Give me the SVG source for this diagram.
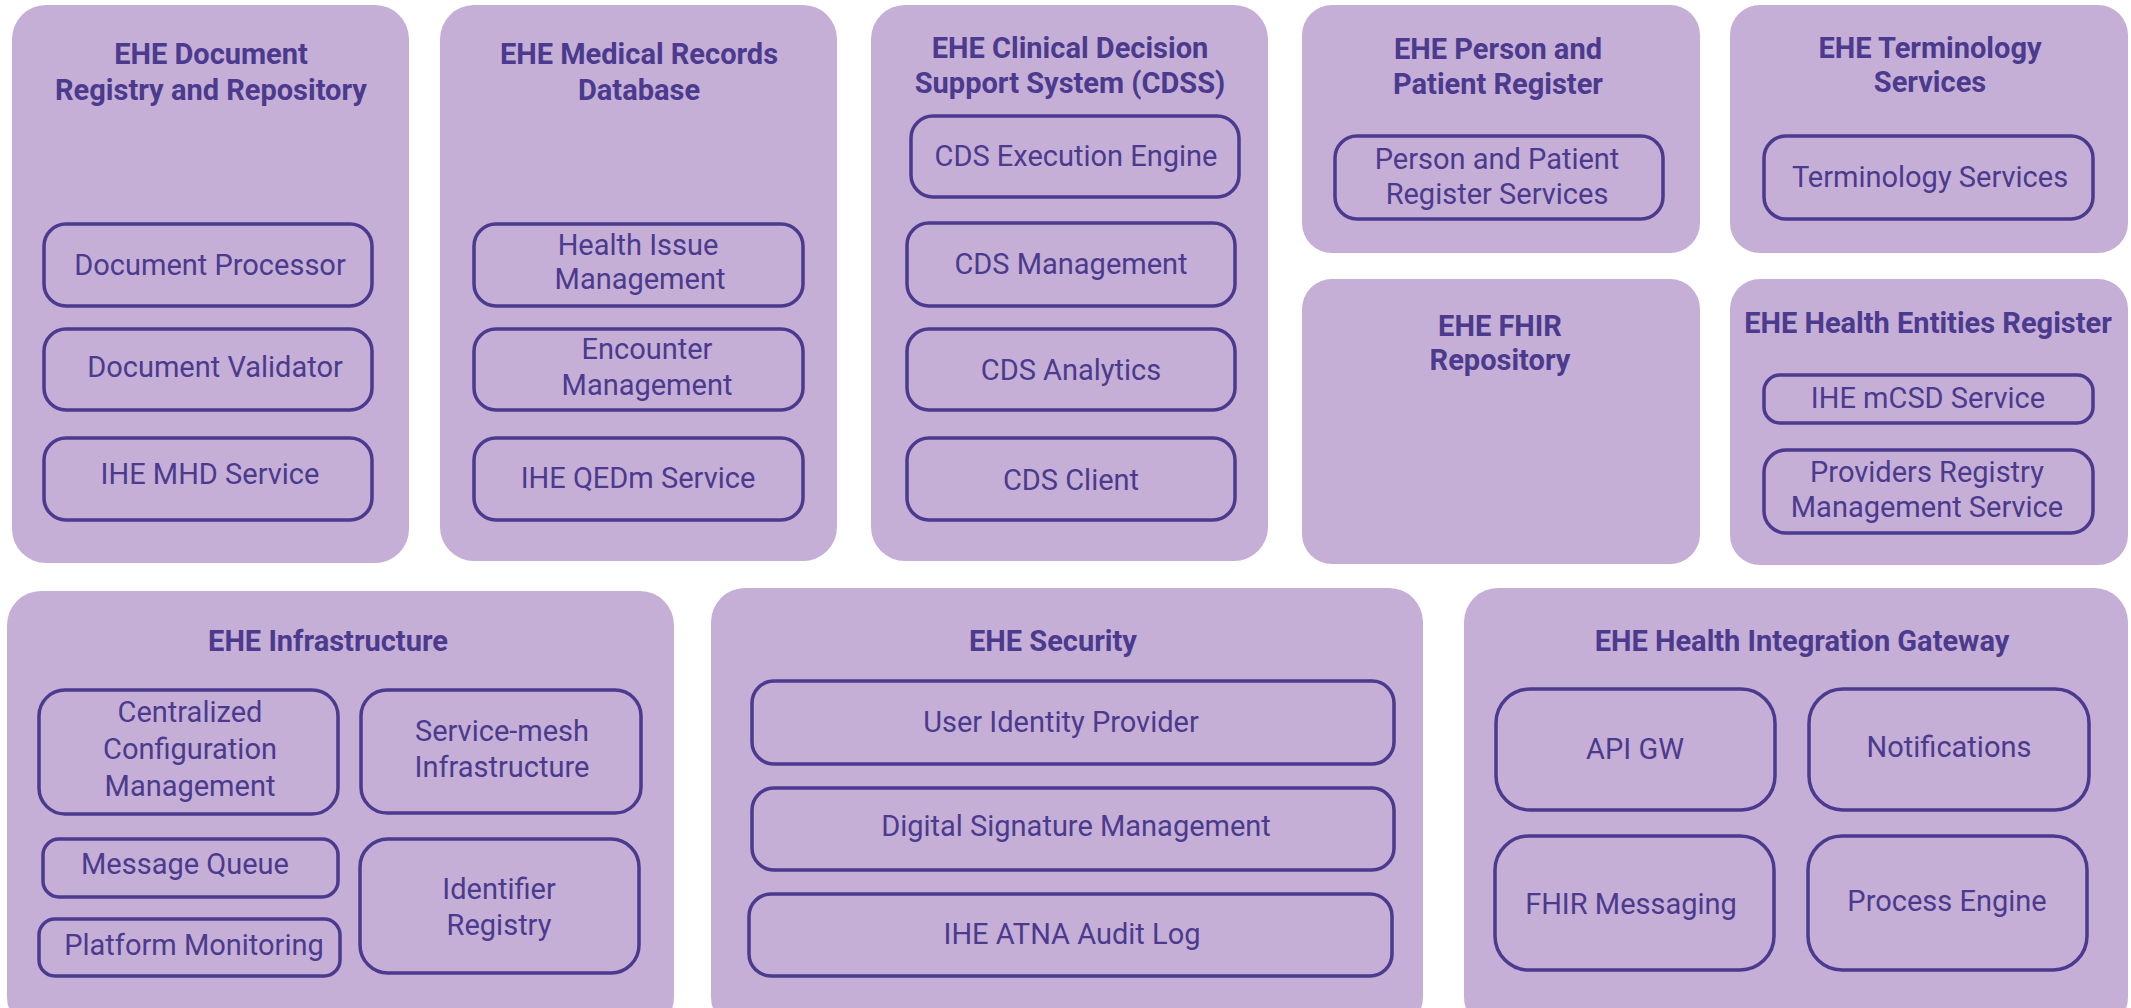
<svg xmlns="http://www.w3.org/2000/svg" width="2131" height="1008" viewBox="0 0 2131 1008">
<style>
.c{fill:#c5afd6;stroke:none}
.b{fill:none;stroke:#4b3a8e;stroke-width:3.5}
.t{font-family:Roboto,"Liberation Sans",sans-serif;font-weight:700;font-size:29px;fill:#4b3a8e;text-anchor:middle}
.i{font-family:Roboto,"Liberation Sans",sans-serif;font-weight:400;font-size:29px;fill:#4b3a8e;text-anchor:middle}
</style>
<rect width="2131" height="1008" fill="#ffffff"/>
<g id="doc-registry">
<rect class="c" x="12" y="5" width="397" height="558" rx="34"/>
<text class="t" x="211" y="64">EHE Document</text>
<text class="t" x="211" y="100">Registry and Repository</text>
<rect class="b" x="44" y="224" width="328" height="82" rx="22"/>
<text class="i" x="210" y="275">Document Processor</text>
<rect class="b" x="44" y="329" width="328" height="81" rx="22"/>
<text class="i" x="215" y="377">Document Validator</text>
<rect class="b" x="44" y="438" width="328" height="82" rx="22"/>
<text class="i" x="210" y="484">IHE MHD Service</text>
</g>
<g id="medical-records">
<rect class="c" x="440" y="5" width="397" height="556" rx="34"/>
<text class="t" x="639" y="64">EHE Medical Records</text>
<text class="t" x="639" y="100">Database</text>
<rect class="b" x="474" y="224" width="329" height="82" rx="22"/>
<text class="i" x="638" y="255">Health Issue</text>
<text class="i" x="640" y="289">Management</text>
<rect class="b" x="474" y="329" width="329" height="81" rx="22"/>
<text class="i" x="647" y="359">Encounter</text>
<text class="i" x="647" y="395">Management</text>
<rect class="b" x="474" y="438" width="329" height="82" rx="22"/>
<text class="i" x="638" y="488">IHE QEDm Service</text>
</g>
<g id="cdss">
<rect class="c" x="871" y="5" width="397" height="556" rx="34"/>
<text class="t" x="1070" y="58">EHE Clinical Decision</text>
<text class="t" x="1070" y="93">Support System (CDSS)</text>
<rect class="b" x="911" y="116" width="328" height="81" rx="22"/>
<text class="i" x="1076" y="166">CDS Execution Engine</text>
<rect class="b" x="907" y="223" width="328" height="83" rx="22"/>
<text class="i" x="1071" y="274">CDS Management</text>
<rect class="b" x="907" y="329" width="328" height="81" rx="22"/>
<text class="i" x="1071" y="380">CDS Analytics</text>
<rect class="b" x="907" y="438" width="328" height="82" rx="22"/>
<text class="i" x="1071" y="490">CDS Client</text>
</g>
<g id="person-register">
<rect class="c" x="1302" y="5" width="398" height="248" rx="30"/>
<text class="t" x="1498" y="59">EHE Person and</text>
<text class="t" x="1498" y="94">Patient Register</text>
<rect class="b" x="1335" y="136" width="328" height="83" rx="22"/>
<text class="i" x="1497" y="169">Person and Patient</text>
<text class="i" x="1497" y="204">Register Services</text>
</g>
<g id="terminology">
<rect class="c" x="1730" y="5" width="398" height="248" rx="30"/>
<text class="t" x="1930" y="58">EHE Terminology</text>
<text class="t" x="1930" y="92">Services</text>
<rect class="b" x="1764" y="136" width="329" height="83" rx="22"/>
<text class="i" x="1930" y="187">Terminology Services</text>
</g>
<g id="fhir-repository">
<rect class="c" x="1302" y="279" width="398" height="285" rx="30"/>
<text class="t" x="1500" y="336">EHE FHIR</text>
<text class="t" x="1500" y="370">Repository</text>
</g>
<g id="health-entities">
<rect class="c" x="1730" y="279" width="398" height="286" rx="30"/>
<text class="t" x="1928" y="333">EHE Health Entities Register</text>
<rect class="b" x="1764" y="375" width="329" height="48" rx="16"/>
<text class="i" x="1928" y="408">IHE mCSD Service</text>
<rect class="b" x="1764" y="450" width="329" height="83" rx="22"/>
<text class="i" x="1927" y="482">Providers Registry</text>
<text class="i" x="1927" y="517">Management Service</text>
</g>
<g id="infrastructure">
<rect class="c" x="7" y="591" width="667" height="440" rx="34"/>
<text class="t" x="328" y="651">EHE Infrastructure</text>
<rect class="b" x="39" y="690" width="299" height="124" rx="26"/>
<text class="i" x="190" y="722">Centralized</text>
<text class="i" x="190" y="759">Configuration</text>
<text class="i" x="190" y="796">Management</text>
<rect class="b" x="361" y="690" width="280" height="123" rx="26"/>
<text class="i" x="502" y="741">Service-mesh</text>
<text class="i" x="502" y="777">Infrastructure</text>
<rect class="b" x="43" y="839" width="295" height="58" rx="16"/>
<text class="i" x="185" y="874">Message Queue</text>
<rect class="b" x="39" y="919" width="301" height="57" rx="16"/>
<text class="i" x="194" y="955">Platform Monitoring</text>
<rect class="b" x="360" y="839" width="279" height="134" rx="28"/>
<text class="i" x="499" y="899">Identifier</text>
<text class="i" x="499" y="935">Registry</text>
</g>
<g id="security">
<rect class="c" x="711" y="588" width="712" height="443" rx="34"/>
<text class="t" x="1053" y="651">EHE Security</text>
<rect class="b" x="752" y="681" width="642" height="83" rx="22"/>
<text class="i" x="1061" y="732">User Identity Provider</text>
<rect class="b" x="752" y="788" width="642" height="82" rx="22"/>
<text class="i" x="1076" y="836">Digital Signature Management</text>
<rect class="b" x="749" y="894" width="643" height="82" rx="22"/>
<text class="i" x="1072" y="944">IHE ATNA Audit Log</text>
</g>
<g id="integration-gateway">
<rect class="c" x="1464" y="588" width="664" height="443" rx="34"/>
<text class="t" x="1802" y="651">EHE Health Integration Gateway</text>
<rect class="b" x="1496" y="689" width="279" height="121" rx="34"/>
<text class="i" x="1635" y="759">API GW</text>
<rect class="b" x="1809" y="689" width="280" height="121" rx="34"/>
<text class="i" x="1949" y="757">Notifications</text>
<rect class="b" x="1495" y="836" width="279" height="134" rx="34"/>
<text class="i" x="1631" y="914">FHIR Messaging</text>
<rect class="b" x="1808" y="836" width="279" height="134" rx="34"/>
<text class="i" x="1947" y="911">Process Engine</text>
</g>
<g id="connectors"></g>
</svg>
